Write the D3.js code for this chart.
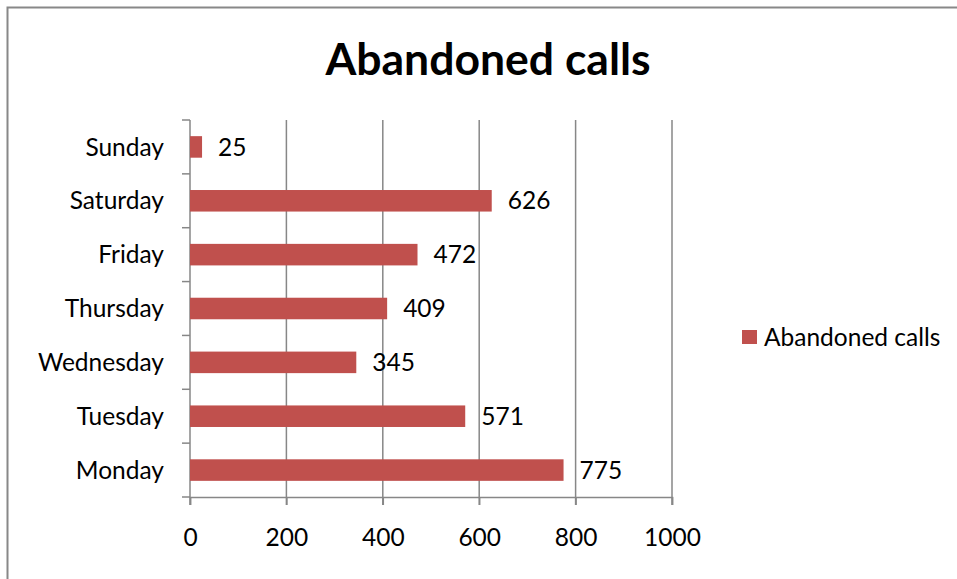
<!DOCTYPE html>
<meta charset="utf-8">
<style>
body{
	margin:0;
	background:#fff;
	font-family:Lato, "Open Sans", sans-serif;
}
</style>
<script src="https://cdn.jsdelivr.net/npm/d3@7"></script>
<div id="chart"></div>

<script>

var days = ["Monday","Tuesday","Wednesday","Thursday","Friday","Saturday","Sunday"]
var abandoned = [775,571,345,409,472,626,25]
var xTicks = [0,200,400,600,800,1000]
var seriesName = "Abandoned calls"

var W = 957, H = 579
var barColor = "#C0504D", gridColor = "#878787"
var fs = 24.5

var svg = d3.select("#chart").append("svg").attr("width",W).attr("height",H)

// outer chart border
svg.append("rect").attr("x",7.5).attr("y",7.5).attr("width",W+10).attr("height",H+10)
	.attr("fill","none").attr("stroke","#888").attr("stroke-width",2)

svg.append("text").attr("x",488).attr("y",75).attr("text-anchor","middle")
	.attr("font-weight","bold").attr("font-size",44.5).text(seriesName)

var x = d3.scaleLinear().domain([0,1000]).range([190,672])
var y = d3.scaleBand().domain(days.slice().reverse()).range([120,497])

// grid lines
svg.selectAll(".grid").data(xTicks.slice(1)).enter().append("line")
	.attr("x1",d=>x(d)).attr("x2",d=>x(d)).attr("y1",120).attr("y2",505)
	.attr("stroke",gridColor).attr("stroke-width",1.5)

// x axis
var xAxis = svg.append("g").attr("transform","translate(0,497)")
	.call(d3.axisBottom(x).tickValues(xTicks).tickFormat(d3.format("d")).tickSize(8).tickPadding(24))
xAxis.select(".domain").attr("stroke",gridColor).attr("stroke-width",1.5)
xAxis.selectAll(".tick line").attr("stroke",gridColor).attr("stroke-width",1.5)
xAxis.selectAll("text").attr("font-size",fs).attr("font-family","Lato").attr("fill","#000")

// y axis, ticks between categories
var yAxis = svg.append("g").attr("transform","translate(190,0)")
yAxis.append("line").attr("x1",0).attr("x2",0).attr("y1",120).attr("y2",505)
	.attr("stroke",gridColor).attr("stroke-width",1.5)
var edges = days.map(d=>y(d)).concat([497])
yAxis.selectAll(".tk").data(edges).enter().append("line")
	.attr("x1",-8).attr("x2",0).attr("y1",d=>d).attr("y2",d=>d)
	.attr("stroke",gridColor).attr("stroke-width",1.5)
yAxis.selectAll(".lbl").data(days).enter().append("text")
	.attr("x",-26).attr("y",d=>y(d)+y.bandwidth()/2).attr("dy","0.35em")
	.attr("text-anchor","end").attr("font-size",fs).text(d=>d)

// bars
var barH = y.bandwidth()*0.4
svg.selectAll(".bar").data(days).enter().append("rect")
	.attr("x",x(0)).attr("y",d=>y(d)+(y.bandwidth()-barH)/2)
	.attr("width",(d,i)=>x(abandoned[i])-x(0)).attr("height",barH)
	.attr("fill",barColor)

svg.selectAll(".val").data(days).enter().append("text")
	.attr("x",(d,i)=>x(abandoned[i])+16).attr("y",d=>y(d)+y.bandwidth()/2).attr("dy","0.35em")
	.attr("font-size",fs).text((d,i)=>abandoned[i])

// legend
svg.append("rect").attr("x",742).attr("y",330).attr("width",15).attr("height",14).attr("fill",barColor)
svg.append("text").attr("x",764).attr("y",337).attr("dy","0.35em").attr("font-size",fs).text(seriesName)

</script>
